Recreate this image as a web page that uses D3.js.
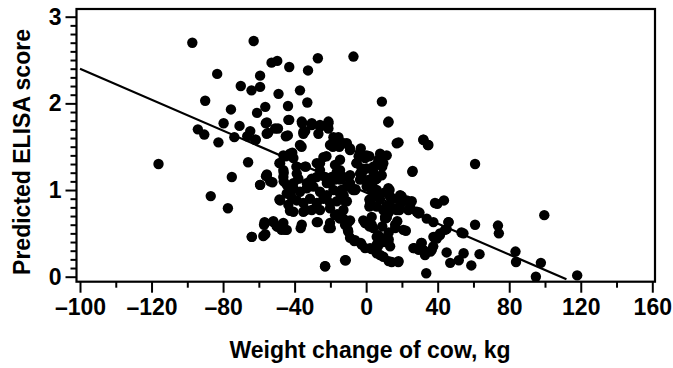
<!DOCTYPE html>
<html>
<head>
<meta charset="utf-8">
<script src="https://cdn.jsdelivr.net/npm/d3@7"></script>
<style>
	body { margin: 0; background: #fff; }
	svg text { font-family: "Liberation Sans", Arial, sans-serif; font-weight: bold; fill: #000; }
</style>
</head>
<body>
<svg id="chart" width="673" height="368"></svg>
<script>
// weight change (kg) and predicted ELISA score, one entry per cow
const weightChange = [
	-116.1, -97.2, -90.0, -94.1, -90.5, -83.3, -82.6, -79.7, -86.9, -77.3, -75.6, -73.7, -75.1, -70.1, -70.8,
	-66.0, -66.5, -64.1, -62.9, -64.8, -61.7, -59.3, -59.3, -61.0, -56.4, -63.9, -59.3, -56.8, -56.4, -55.5,
	-54.8, -55.5, -52.4, -51.9, -52.9, -49.7, -49.0, -49.3, -48.5, -48.5, -49.7, -47.3, -46.1, -46.1, -44.9,
	-43.7, -43.0, -44.4, -43.0, -44.9, -41.3, -42.0, -42.6, -39.0, -37.0, -36.1, -36.6, -35.8, -34.1, -32.9,
	-32.5, -33.7, -33.7, -27.0, -27.0, -25.8, -19.8, -22.9, -11.4, -7.8, -7.1, -30.4, -21.1, -18.3, -35.1,
	-57.1, -56.0, -62.1,
	-56.1, -50.9, -55.6, -43.5, -43.8, -36.0, -30.4, -25.8, -21.1, -21.1, -26.7, -35.1, 12.4,
	-37.0, -18.3, -15.5, -20.2, -10.8, -9.0, -3.4, 0.3, 7.8, 11.5, 17.1, 32.0, 34.8,
	-46.3, -42.6, -40.7, -48.1, -46.3, -34.2, -27.6, -23.9, -25.8, -17.4, -14.6, -16.4, -19.2,
	-5.3, -0.6, -2.5, 4.0, 6.8, 9.6, 25.8, -14.6, -9.0, -3.4, 0.3, 5.9,
	-55.6, -59.3, -53.7, -38.8, -40.7, -37.9, -31.4, -27.6, -22.0, -12.7, -9.0, -3.4, 0.3, 5.0, 8.7,
	5.9, 12.4, 4.0, 5.9, -46.3, -44.4, -33.2, -30.4, -23.0, -20.2, -14.6, -10.8, -6.2, 4.0, 3.1,
	12.4, 13.4, 19.0, 22.7, 25.5,
	-44.4, -40.7, -37.0, -33.2, -29.5, -25.8, -22.0, -18.3, -14.6, -10.8, -7.2,
	15.2, 13.4, 10.6, 17.1, -48.1, -43.5, -38.8, -35.1, -31.4, -27.6, -23.9, -20.2, -16.4, -12.7,
	-40.7, -35.1, -30.4, -25.8, -20.2, -17.4, -14.6, -11.8, 2.2, 5.9, 9.6, 19.0, 23.6, 28.3, 29.2, 38.5, 4.0,
	33.9, 37.6, -16.4, -12.7, -10.0, -1.6, 3.1, 11.5, 16.2, 20.8,
	-56.5, -51.9, -46.3, -50.0, -45.3, -36.0, -27.6, -20.2, -21.1, -11.8, -9.0, 0.3, 3.1, 10.6,
	-0.6, 4.0, 6.8, 9.6, 12.4, 13.4, -10.0, -6.2, -2.5, 2.2, 5.9, 9.6, 14.3, 18.0, 5.9, 7.8, 5.9, 9.6,
	-64.0, -57.5, -11.8, -23.0, 26.4, 31.1, 36.7, 32.9, 37.6, 41.3, 38.5, 44.1, 46.0, 54.4,
	-16.0, -15.0, -12.6, -9.0, -3.0, 1.8, 6.6, 9.0, 4.2, 1.8, 3.0, 4.2, -1.8, -1.1, -5.4, -4.2, -5.9,
	1.8, 1.8, 6.6, 7.8, 10.2, 11.4, 12.6, 11.4, 9.0, 12.6, 12.6, 7.8, 6.6, -0.6, 1.8, -3.0, -0.6, 3.0,
	-10.2, -10.2, -9.0, -6.6, -16.2, -15.0, -12.6, -13.8, -17.4, -15.0, -22.2, -18.6, -25.8,
	99.6, 60.9, 73.7, 74.2, 83.5, 83.8, 97.7, 94.9, 118.0, 63.4, 58.8, 53.3, 54.5, 51.8, 46.1,
	45.0, 43.5, 39.8, 45.0, 47.0, 37.5, 36.0, 38.5, 41.3, 33.6, 32.0, 34.5, 30.8, 32.0, 29.4,
	26.9, 29.8, 26.0, 23.4, 24.6, 19.8, 18.6, 22.2, 17.4, 16.2, 18.1, 12.6, 18.1, 8.8, 12.5,
	13.1, 13.3, 60.9, 39.5
];
const elisaScore = [
	1.30, 2.70, 2.03, 1.70, 1.64, 2.34, 1.55, 1.77, 0.93, 0.79, 1.93, 1.61, 1.15, 2.20, 1.74,
	1.32, 1.62, 2.15, 2.72, 1.68, 1.58, 2.19, 2.32, 1.89, 1.96, 0.46, 1.06, 0.63, 0.49, 1.78,
	1.66, 1.18, 1.09, 0.64, 2.47, 2.49, 2.11, 1.71, 1.31, 0.89, 0.58, 0.54, 1.20, 1.10, 1.62,
	1.97, 2.42, 0.54, 1.81, 1.39, 1.43, 0.93, 0.76, 1.27, 2.15, 1.50, 0.56, 1.77, 1.68, 2.01,
	2.38, 1.27, 0.77, 2.52, 0.63, 1.73, 0.56, 0.12, 0.19, 1.01, 2.54, 1.75, 1.79, 1.61, 1.67,
	0.60, 1.16, 1.58,
	1.77, 1.71, 1.65, 1.81, 1.63, 1.79, 1.77, 1.75, 1.77, 1.71, 1.65, 1.65, 1.78,
	1.52, 1.56, 1.61, 1.52, 1.54, 1.46, 1.44, 1.40, 1.42, 1.40, 1.54, 1.58, 1.52,
	1.40, 1.42, 1.37, 1.31, 1.23, 1.27, 1.31, 1.38, 1.23, 1.29, 1.35, 1.21, 1.15,
	1.31, 1.37, 1.25, 1.27, 1.35, 1.31, 1.21, 1.23, 1.17, 1.19, 1.25, 1.29,
	1.17, 1.06, 1.10, 1.19, 1.08, 1.13, 1.10, 1.15, 1.08, 1.15, 1.08, 1.12, 1.04, 1.12, 1.17,
	1.00, 1.00, 1.10, 1.13, 1.15, 1.06, 1.08, 1.13, 1.15, 1.08, 1.12, 1.04, 1.00, 1.12, 1.00,
	1.02, 0.92, 0.94, 0.88, 0.87,
	0.96, 1.02, 0.98, 1.02, 1.04, 0.98, 0.94, 1.00, 0.96, 0.87, 1.00,
	0.90, 0.81, 0.69, 0.77, 0.88, 0.83, 0.88, 0.85, 0.90, 0.85, 0.90, 0.85, 0.87, 0.77,
	0.75, 0.75, 0.77, 0.77, 0.79, 0.71, 0.67, 0.87, 0.85, 0.81, 0.77, 0.83, 0.77, 0.75, 0.73, 0.85, 0.92,
	0.67, 0.63, 0.71, 0.67, 0.63, 0.65, 0.60, 0.69, 0.60, 0.54,
	0.62, 0.63, 0.62, 0.58, 0.54, 0.60, 0.63, 0.62, 0.56, 0.60, 0.65, 0.62, 0.69, 0.67,
	0.62, 0.56, 0.48, 0.44, 0.40, 0.35, 0.52, 0.42, 0.37, 0.33, 0.27, 0.23, 0.17, 0.17, 0.37, 0.25, 0.46, 0.40,
	0.46, 0.47, 0.19, 0.12, 0.33, 0.39, 0.31, 0.25, 0.46, 0.48, 0.44, 0.54, 0.63, 0.50,
	1.60, 1.50, 1.54, 1.48, 1.48, 1.39, 1.31, 1.27, 1.20, 1.12, 1.06, 0.97, 1.22, 1.12, 1.31, 1.39, 1.01,
	0.89, 0.81, 0.93, 0.89, 0.97, 0.81, 0.74, 0.68, 0.58, 0.51, 0.43, 0.45, 0.35, 0.63, 0.58, 0.39, 0.33, 0.32,
	0.64, 0.54, 0.45, 0.41, 0.72, 0.68, 0.94, 1.00, 1.12, 1.18, 1.39, 1.50, 1.31,
	0.71, 1.30, 0.59, 0.50, 0.29, 0.17, 0.16, 0.00, 0.015, 0.26, 0.13, 0.51, 0.27, 0.19, 0.63,
	0.55, 0.88, 0.84, 0.28, 0.16, 0.35, 0.29, 0.46, 0.50, 0.04, 1.58, 1.52, 0.39, 0.31, 0.31,
	0.33, 0.74, 1.22, 0.87, 0.81, 0.93, 0.77, 0.53, 0.64, 0.56, 1.55, 0.18, 0.18, 2.02, 1.79,
	1.00, 0.93, 0.60, 0.44
];
// fitted regression line (end points)
const fitWeight = [-160, 112];
const fitScore = [2.40, -0.03];

const xTickValues = [-160, -120, -80, -40, 0, 40, 80, 120, 160];
const xTickLabels = ["\u2013100", "\u2013120", "\u201380", "\u201340", "0", "40", "80", "120", "160"];
const xMinorValues = [-140, -100, -60, -20, 20, 60, 100, 140];
const yTickValues = [0, 1, 2, 3];
const yMinorValues = d3.range(1, 31).filter(d => d % 10 !== 0).map(d => d / 10);

const frame = { left: 76.5, right: 655, top: 9, bottom: 281.7 };

const svg = d3.select("#chart");

const x = d3.scaleLinear().domain([-160, 160]).range([80, 652.3]);
const y = d3.scaleLinear().domain([0, 3]).range([276.7, 16.7]);

const points = weightChange.map((w, i) => ({ w: w, s: elisaScore[i] }));

// dots
svg.append("g")
	.attr("class", "dots")
	.selectAll("circle")
	.data(points)
	.enter().append("circle")
		.attr("cx", d => x(d.w))
		.attr("cy", d => y(d.s))
		.attr("r", 5.2)
		.attr("fill", "#000");

// regression line
const line = d3.line()
	.x(d => x(d[0]))
	.y(d => y(d[1]));
svg.append("path")
	.datum(fitWeight.map((w, i) => [w, fitScore[i]]))
	.attr("fill", "none")
	.attr("stroke", "#000")
	.attr("stroke-width", 2.2)
	.attr("d", line);

// frame
svg.append("rect")
	.attr("x", frame.left)
	.attr("y", frame.top)
	.attr("width", frame.right - frame.left)
	.attr("height", frame.bottom - frame.top)
	.attr("fill", "none")
	.attr("stroke", "#000")
	.attr("stroke-width", 2.2);

function styleAxis(g) {
	g.select(".domain").remove();
	g.selectAll(".tick line").attr("stroke", "#000").attr("stroke-width", 2);
	g.selectAll(".tick text").attr("font-size", 23);
}

// x axis
svg.append("g")
	.attr("transform", `translate(0,${frame.bottom})`)
	.call(d3.axisBottom(x).tickValues(xTickValues).tickSize(11).tickSizeOuter(0).tickPadding(6)
		.tickFormat((d, i) => xTickLabels[i]))
	.call(styleAxis);
svg.append("g")
	.attr("transform", `translate(0,${frame.bottom})`)
	.call(d3.axisBottom(x).tickValues(xMinorValues).tickSize(6).tickSizeOuter(0).tickFormat(""))
	.call(styleAxis);

// y axis
svg.append("g")
	.attr("transform", `translate(${frame.left},0)`)
	.call(d3.axisLeft(y).tickValues(yTickValues).tickSize(11).tickSizeOuter(0).tickPadding(4)
		.tickFormat(d3.format("d")))
	.call(styleAxis);
svg.append("g")
	.attr("transform", `translate(${frame.left},0)`)
	.call(d3.axisLeft(y).tickValues(yMinorValues).tickSize(6).tickSizeOuter(0).tickFormat(""))
	.call(styleAxis);

// titles
svg.append("text")
	.attr("x", 370)
	.attr("y", 358)
	.attr("text-anchor", "middle")
	.attr("font-size", 23)
	.text("Weight change of cow, kg");

svg.append("text")
	.attr("transform", "translate(30,152) rotate(-90)")
	.attr("text-anchor", "middle")
	.attr("font-size", 23)
	.text("Predicted ELISA score");
</script>
</body>
</html>
